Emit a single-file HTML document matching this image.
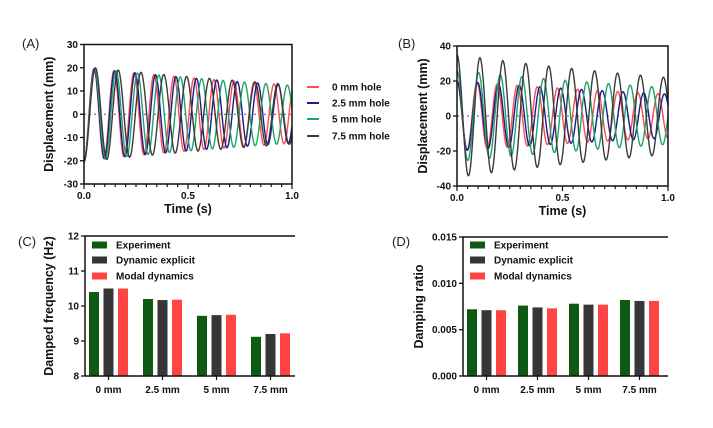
<!DOCTYPE html>
<html><head><meta charset="utf-8"><style>
body{margin:0;background:#fff;}
svg{font-family:"Liberation Sans",Arial,sans-serif;}
.t{font-size:10px;font-weight:bold;fill:#111;}
.at{font-size:12.5px;font-weight:bold;fill:#111;}
.pl{font-size:13px;fill:#222;}
</style></head><body>
<svg id="s" width="713" height="423" viewBox="0 0 713 423"></svg>
<script>
// Time-series panel parameters
const seriesNames=["0 mm hole","2.5 mm hole","5 mm hole","7.5 mm hole"];
const seriesColors=["#ff4d4d","#1a1a8c","#1fa36b","#3a3a3a"];
const freqA=[10.4,10.18,9.72,9.12];
const ampA=[20,20,20,20.5];
const zetaA=[0.0072,0.0075,0.0078,0.0082];
const freqB=[10.5,10.17,9.75,9.2];
const ampB=[20,20,26,35];
const zetaB=[0.0071,0.0073,0.0077,0.0081];
// Bar panels
const barCats=["0 mm","2.5 mm","5 mm","7.5 mm"];
const barSeries=["Experiment","Dynamic explicit","Modal dynamics"];
const barColors=["#0e5a12","#363636","#ff4444"];
const freqExp=[10.4,10.2,9.72,9.12];
const freqDyn=[10.5,10.17,9.74,9.2];
const freqMod=[10.5,10.18,9.75,9.22];
const dampExp=[0.0072,0.0076,0.0078,0.0082];
const dampDyn=[0.0071,0.0074,0.0077,0.0081];
const dampMod=[0.0071,0.0073,0.0077,0.0081];
const ticksA=[30,20,10,0,-10,-20,-30];
const ticksB=[40,20,0,-20,-40];
const ticksC=[12,11,10,9,8];
const ticksD=[0.015,0.010,0.005,0.000];

const S=document.getElementById('s');
function el(t,a,p){const e=document.createElementNS('http://www.w3.org/2000/svg',t);for(const k in a)e.setAttribute(k,a[k]);(p||S).appendChild(e);return e;}
function txt(x,y,s,c,anchor,extra){const e=el('text',Object.assign({x:x,y:y,class:c,'text-anchor':anchor||'start'},extra||{}));e.textContent=s;return e;}

function tsPanel(id,x0,x1,y0,y1,ymax,ticks,freq,amp,zeta,label,lx,ylabx){
  const g=el('g',{});
  
  
  const X=t=>x0+(x1-x0)*t, Y=v=>y1-(y1-y0)*(v+ymax)/(2*ymax);
  el('line',{x1:x0,y1:Y(0),x2:x1,y2:Y(0),stroke:'#555','stroke-dasharray':'2,3','stroke-width':1},g);
  for(let i=0;i<4;i++){
    let d='';const w=2*Math.PI*freq[i];
    for(let k=0;k<=600;k++){const t=k/600;const v=(id==='panel-a'?-1:1)*amp[i]*Math.exp(-zeta[i]*w*t)*Math.cos(w*t);d+=(k?'L':'M')+X(t).toFixed(2)+','+Y(v).toFixed(2);}
    const p=el('path',{d:d,fill:'none',stroke:seriesColors[i],'stroke-width':1.4},g);
    
    
  }
  el('rect',{x:x0,y:y0,width:x1-x0,height:y1-y0,fill:'none',stroke:'#111','stroke-width':1.5},g);
  ticks.forEach(v=>{el('line',{x1:x0-4,y1:Y(v),x2:x0,y2:Y(v),stroke:'#111','stroke-width':1.3},g);txt(x0-6,Y(v)+3.5,String(v),'t','end');});
  for(let k=0;k<=20;k++){const t=k/20;el('line',{x1:X(t),y1:y1,x2:X(t),y2:y1+(k%10?3:5),stroke:'#111','stroke-width':1.2},g);}
  ['0.0','0.5','1.0'].forEach((s,i)=>txt(X(i/2),y1+15,s,'t','middle'));
  txt((x0+x1)/2,y1+29,'Time (s)','at','middle');
  txt(ylabx,(y0+y1)/2,'Displacement (mm)','at','middle',{transform:'rotate(-90 '+ylabx+' '+(y0+y1)/2+')'});
  txt(lx,48,label,'pl','start');
}
tsPanel('panel-a',84,292,44.5,184,30,ticksA,freqA,ampA,zetaA,'(A)',22,53);
tsPanel('panel-b',457,668,46,186,40,ticksB,freqB,ampB,zetaB,'(B)',398,427);

// legend A
seriesNames.forEach((n,i)=>{const y=[87,103,119,136][i];
  const l=el('line',{x1:307,y1:y,x2:319,y2:y,stroke:seriesColors[i],'stroke-width':2});
  
  
  txt(332,y+3.5,n,'t','start',{'font-size':'9.5'});
});

function barPanel(id,x0,x1,y0,y1,ymin,ymax,ticks,fmt,vals,gap,label,lx,ytitle,ytx){
  const g=el('g',{});
  
  
  const Y=v=>y1-(y1-y0)*(v-ymin)/(ymax-ymin);
  const start=x0+4;
  barCats.forEach((c,ci)=>{
    const cx=start+ci*gap+19.5;
    vals.forEach((arr,si)=>{
      const bx=start+ci*gap+si*14.5;
      const r=el('rect',{x:bx,y:Y(arr[ci]),width:10,height:y1-Y(arr[ci]),fill:barColors[si]},g);
      
      
    });
    el('line',{x1:cx,y1:y1,x2:cx,y2:y1+4,stroke:'#111','stroke-width':1.2},g);
    txt(cx,y1+17,c,'t','middle');
  });
  el('path',{d:`M${x0},${y1}V${y0}H${x1}`,fill:'none',stroke:'#111','stroke-width':1.5},g);
  el('line',{x1:x0,y1:y1,x2:x1,y2:y1,stroke:'#111','stroke-width':1.5},g);
  ticks.forEach(v=>{el('line',{x1:x0-4,y1:Y(v),x2:x0,y2:Y(v),stroke:'#111','stroke-width':1.3},g);txt(x0-6,Y(v)+3.5,fmt(v),'t','end');});
  barSeries.forEach((n,i)=>{const y=[245,260,276][i];
    const r=el('rect',{x:x0+7,y:y-3.5,width:15,height:7,fill:barColors[i]},g);
    
    
    txt(x0+31,y+3.5,n,'t','start',{'font-size':'9.5'});
  });
  txt(ytx,(y0+y1)/2,ytitle,'at','middle',{transform:'rotate(-90 '+ytx+' '+(y0+y1)/2+')'});
  txt(lx,246,label,'pl','start');
}
barPanel('panel-c',85,295,236,376,8,12,ticksC,v=>String(v),[freqExp,freqDyn,freqMod],54,'(C)',18,'Damped frequency (Hz)',53);
barPanel('panel-d',463,668,237,376,0,0.015,ticksD,v=>v.toFixed(3),[dampExp,dampDyn,dampMod],51,'(D)',392,'Damping ratio',423);
</script>
</body></html>
